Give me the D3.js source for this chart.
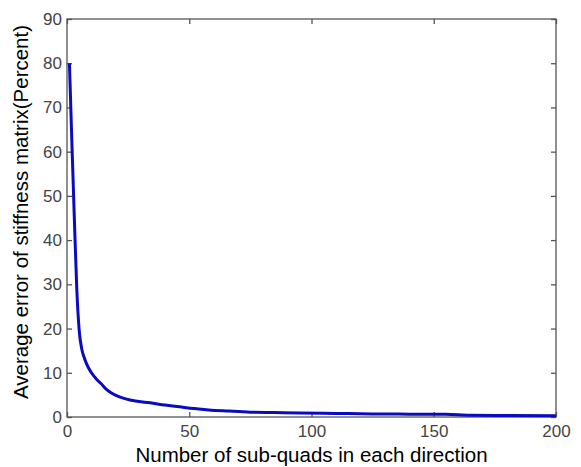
<!DOCTYPE html>
<html><head><meta charset="utf-8">
<script src="https://cdn.jsdelivr.net/npm/d3@7"></script>
<style>body{margin:0;background:#fff}svg{display:block}</style>
</head><body>
<svg id="c" width="581" height="467"></svg>
<script>
const subQuads = [1, 2, 3, 4, 5, 6, 7, 8, 10, 12, 14, 16, 18, 20, 24, 28, 34, 40, 46, 52, 58, 66, 75, 85, 95, 110, 125, 140, 155, 165, 180, 200];
const avgError = [80, 62, 45, 29, 19.5, 15.5, 13.5, 12, 10.0, 8.6, 7.5, 6.3, 5.5, 4.9, 4.1, 3.6, 3.2, 2.7, 2.3, 1.9, 1.6, 1.35, 1.1, 1.0, 0.9, 0.8, 0.7, 0.65, 0.6, 0.4, 0.35, 0.3];
const xTicks = [0, 50, 100, 150, 200];
const yTicks = [0, 10, 20, 30, 40, 50, 60, 70, 80, 90];
const xLabel = "Number of sub-quads in each direction";
const yLabel = "Average error of stiffness matrix(Percent)";

const L = 67, R = 556, T = 19, B = 417;
const svg = d3.select("#c");
const x = d3.scaleLinear().domain([0, 200]).range([L, R]);
const y = d3.scaleLinear().domain([0, 90]).range([B, T]);
const font = "'Liberation Sans', Arial, sans-serif";
const axisCol = "#555";

// box
svg.append("rect").attr("x", L).attr("y", T).attr("width", R - L).attr("height", B - T)
  .attr("fill", "none").attr("stroke", axisCol).attr("stroke-width", 1.3);

function styleAxis(g) {
  g.select(".domain").remove();
  g.selectAll(".tick line").attr("stroke", axisCol).attr("stroke-width", 1.3);
  g.selectAll(".tick text").attr("fill", "#444").style("font-family", font).style("font-size", "17px");
}
// bottom (inward ticks)
svg.append("g").attr("transform", `translate(0,${B})`)
  .call(d3.axisBottom(x).tickValues(xTicks).tickSize(-5).tickPadding(8).tickFormat(d3.format("d")))
  .call(styleAxis);
// top ticks
svg.append("g").attr("transform", `translate(0,${T})`)
  .call(d3.axisTop(x).tickValues(xTicks).tickSize(-5).tickFormat(""))
  .call(styleAxis);
// left
svg.append("g").attr("transform", `translate(${L},0)`)
  .call(d3.axisLeft(y).tickValues(yTicks).tickSize(-5).tickPadding(5).tickFormat(d3.format("d")))
  .call(styleAxis);
// right ticks
svg.append("g").attr("transform", `translate(${R},0)`)
  .call(d3.axisRight(y).tickValues(yTicks).tickSize(-5).tickFormat(""))
  .call(styleAxis);

// curve
const data = subQuads.map((n, i) => [n, avgError[i]]);
svg.append("path").datum(data)
  .attr("fill", "none").attr("stroke", "#0a0ac0").attr("stroke-width", 3)
  .attr("stroke-linejoin", "round")
  .attr("d", d3.line().x(d => x(d[0])).y(d => y(d[1])).curve(d3.curveMonotoneX));

// labels
svg.append("text").attr("x", 311.5).attr("y", 462).attr("text-anchor", "middle")
  .style("font-family", font).style("font-size", "20.5px").attr("fill", "#000").text(xLabel);
svg.append("text").attr("transform", `translate(28,212) rotate(-90)`).attr("text-anchor", "middle")
  .style("font-family", font).style("font-size", "20.5px").attr("fill", "#000").text(yLabel);
</script>
</body></html>
